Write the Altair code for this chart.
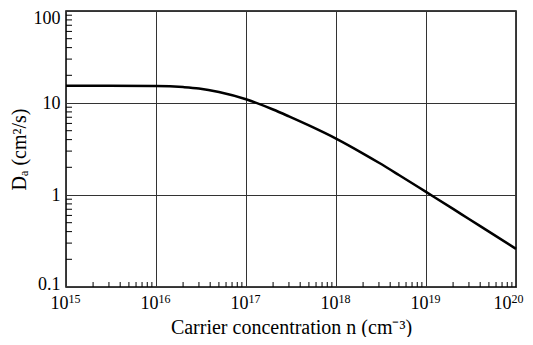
import altair as alt
import pandas as pd

# Curve (carrier concentration in cm^-3, Da in cm^2/s)
n_vals = [1e15, 3e15, 1e16, 2e16, 3e16, 5e16, 1e17, 2e17, 3e17, 5e17,
          1e18, 2e18, 3e18, 5e18, 1e19, 2e19, 3e19, 5e19, 1e20]
da_vals = [15.4, 15.4, 15.3, 14.9, 14.4, 13.2, 11.0, 8.5, 7.15, 5.7,
           4.1, 2.82, 2.24, 1.65, 1.08, 0.706, 0.548, 0.40, 0.26]

x_major = [1e15, 1e16, 1e17, 1e18, 1e19, 1e20]
x_exps = ["15", "16", "17", "18", "19", "20"]
y_major = [0.1, 1, 10, 100]
x_minor = [m * 10.0 ** e for e in range(15, 20) for m in range(2, 10)]
y_minor = [m * 10.0 ** e for e in (-1, 0, 1) for m in range(2, 10)]

W, H = 450, 276
FONT = "Liberation Serif"

df = pd.DataFrame({"n": n_vals, "D": da_vals})
xscale = alt.Scale(type="log", domain=[1e15, 1e20], nice=False)
yscale = alt.Scale(type="log", domain=[0.1, 100], nice=False)

y_label_expr = "datum.value < 0.5 ? '0.1' : toString(round(datum.value))"

x_axis = alt.Axis(
    values=x_major, grid=True, gridColor="#333333", gridWidth=1,
    ticks=False, domain=False, labelExpr="'10'", labelFont=FONT,
    labelFontSize=18, labelColor="black", labelPadding=7, labelFlush=False,
    labelAlign="right",
    labelOffset={"condition": {"test": "datum.value > 5e19", "value": -5}, "value": 2},
    title="Carrier concentration n (cm\u207b\u00b3)", titleFont=FONT,
    titleFontSize=20, titleFontWeight="normal", titleColor="black", titlePadding=5)
y_axis = alt.Axis(
    values=y_major, grid=True, gridColor="#333333", gridWidth=1,
    ticks=False, domain=False, labelExpr=y_label_expr, labelFont=FONT,
    labelFontSize=18, labelColor="black", labelPadding=6, labelFlush=False,
    labelOffset={"condition": [{"test": "datum.value > 50", "value": 7},
                               {"test": "datum.value < 0.5", "value": -3}], "value": 0},
    title="D\u2090 (cm\u00b2/s)", titleFont=FONT, titleFontSize=20,
    titleFontWeight="normal", titleColor="black", titlePadding=4)

line = alt.Chart(df).mark_line(color="black", strokeWidth=2.5, interpolate="monotone").encode(
    x=alt.X("n:Q", scale=xscale, axis=x_axis),
    y=alt.Y("D:Q", scale=yscale, axis=y_axis),
)

xm = alt.Chart(pd.DataFrame({"n": x_minor})).mark_rule(color="black", strokeWidth=1).encode(
    x=alt.X("n:Q", scale=xscale, axis=x_axis),
    y=alt.value(H), y2=alt.value(H - 5),
)
ym = alt.Chart(pd.DataFrame({"D": y_minor})).mark_rule(color="black", strokeWidth=1).encode(
    y=alt.Y("D:Q", scale=yscale, axis=y_axis),
    x=alt.value(0), x2=alt.value(6),
)

exp_df = pd.DataFrame({"n": x_major, "e": x_exps})
exp_base = alt.Chart(exp_df)
exp_main = exp_base.transform_filter("datum.n < 5e19").mark_text(
    align="left", baseline="alphabetic", dx=2.5, font=FONT, fontSize=12, color="black"
).encode(x=alt.X("n:Q", scale=xscale, axis=x_axis), y=alt.value(H + 16), text="e:N")
exp_last = exp_base.transform_filter("datum.n > 5e19").mark_text(
    align="left", baseline="alphabetic", dx=-4.5, font=FONT, fontSize=12, color="black"
).encode(x=alt.X("n:Q", scale=xscale, axis=x_axis), y=alt.value(H + 16), text="e:N")

chart = alt.layer(line, xm, ym, exp_main, exp_last).properties(
    width=W, height=H,
    autosize=alt.AutoSizeParams(type="none"),
    padding={"left": 58, "top": 3, "right": 9, "bottom": 50},
).configure_view(stroke="black", strokeWidth=1.5)

chart.save("out.html", embed_options={"renderer": "svg", "actions": False})
